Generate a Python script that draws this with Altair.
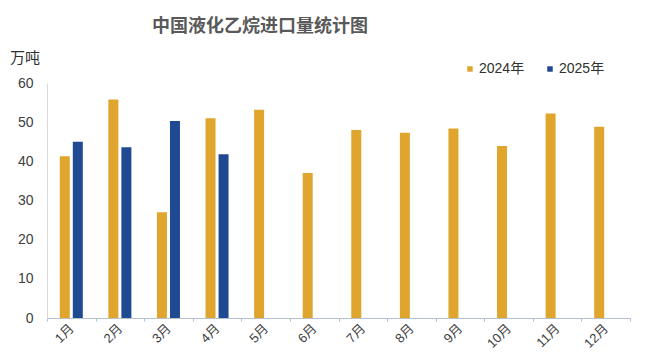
import altair as alt
import pandas as pd

months = ["1月", "2月", "3月", "4月", "5月", "6月", "7月", "8月", "9月", "10月", "11月", "12月"]
v2024 = [41.3, 55.8, 27.0, 51.0, 53.2, 37.0, 48.0, 47.3, 48.4, 43.9, 52.2, 48.8]
v2025 = [45.0, 43.6, 50.3, 41.8]
series = ["2024年", "2025年"]
colors = ["#E0A52C", "#1F4A92"]

rows = []
for m, v in zip(months, v2024):
    rows.append({"month": m, "year": series[0], "value": v})
for m, v in zip(months, v2025):
    rows.append({"month": m, "year": series[1], "value": v})
df = pd.DataFrame(rows)

FONT = "Liberation Sans, Noto Sans CJK SC"

bars = alt.Chart(df).mark_bar(size=10).encode(
    x=alt.X("month:N", sort=months, scale=alt.Scale(paddingInner=0, paddingOuter=0),
            axis=alt.Axis(title=None, labelAngle=-45, labelAlign="right", labelBaseline="middle",
                          labelPadding=5, labelFontSize=13, labelColor="#404040", labelFont=FONT,
                          domainColor="#B4BFCF", tickColor="#B4BFCF", tickSize=3, tickBand="extent",
                          grid=False)),
    xOffset=alt.XOffset("year:N", sort=series,
                        scale=alt.Scale(paddingInner=0.23, paddingOuter=0.98)),
    y=alt.Y("value:Q", scale=alt.Scale(domain=[0, 60], nice=False),
            axis=alt.Axis(title=None, values=[0, 10, 20, 30, 40, 50, 60], labelFontSize=14,
                          labelColor="#404040", labelFont=FONT, labelPadding=14,
                          domainColor="#DADADA", ticks=False, grid=False)),
    color=alt.Color("year:N", sort=series, scale=alt.Scale(domain=series, range=colors),
                    legend=alt.Legend(title=None, orient="none", legendX=416, legendY=-21,
                                      direction="horizontal", symbolType="square", symbolSize=30,
                                      symbolStrokeWidth=0, labelFontSize=14, labelColor="#303030",
                                      labelFont=FONT, columnPadding=18, labelOffset=2, padding=0)),
)

title = alt.Chart(pd.DataFrame({"t": ["中国液化乙烷进口量统计图"]})).mark_text(
    fontSize=18, fontWeight="bold", color="#595959", font="Noto Sans CJK SC"
).encode(text="t:N", x=alt.value(213), y=alt.value(-56))

unit = alt.Chart(pd.DataFrame({"t": ["万吨"]})).mark_text(
    fontSize=15, color="#303030", font="Noto Sans CJK SC", align="left"
).encode(text="t:N", x=alt.value(-37), y=alt.value(-25))

chart = alt.layer(bars, title, unit).properties(
    width=583, height=235,
    autosize=alt.AutoSizeParams(type="none"),
    padding={"left": 47, "top": 83, "right": 30, "bottom": 37},
).configure(background="white").configure_view(stroke=None)

chart.save("out.html", embed_options={"renderer": "svg", "actions": False})
